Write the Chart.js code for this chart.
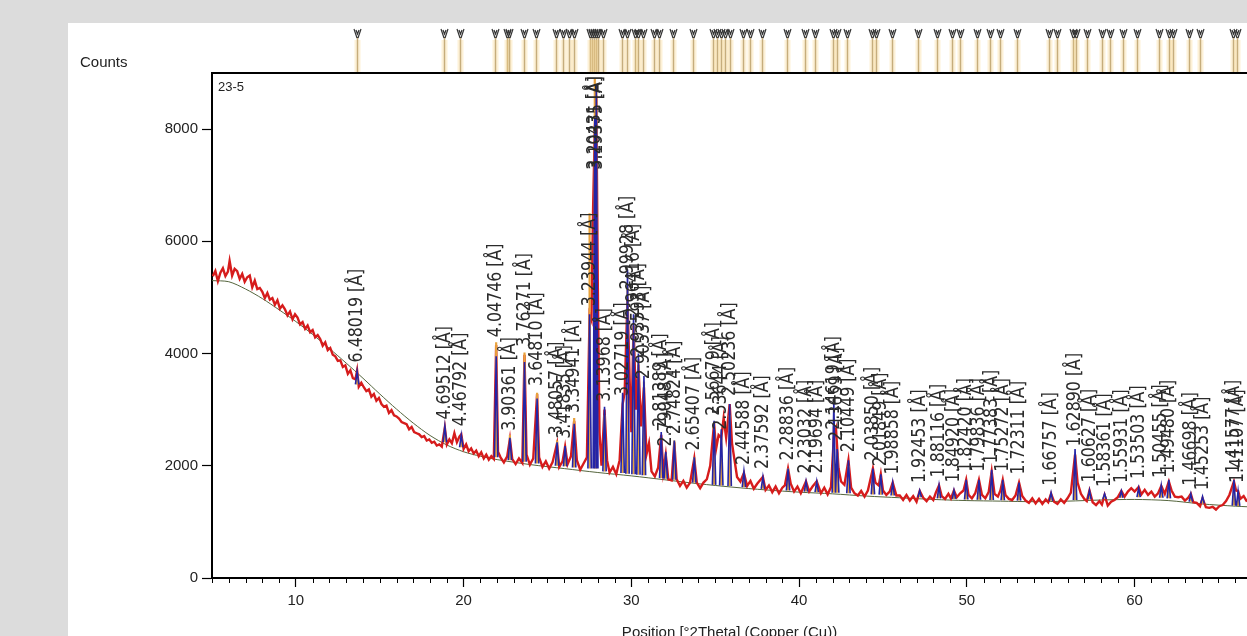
<!DOCTYPE html>
<html>
<head>
<meta charset="utf-8">
<script src="https://cdn.jsdelivr.net/npm/chart.js@4.4.1/dist/chart.umd.min.js"></script>
<style>
  html, body { margin: 0; padding: 0; background: #dcdcdc; }
  #wrap { position: relative; width: 1247px; height: 636px; overflow: hidden; }
</style>
</head>
<body>
<div id="wrap"><canvas id="xrdChart" width="1247" height="636"></canvas></div>
<script>
// measured scan, [2theta, counts]
const observed = [
  [5.05,5380],[5.2,5470],[5.35,5290],[5.5,5440],[5.65,5520],[5.8,5380],[5.95,5460],[6.05,5650],[6.2,5390],[6.35,5510],
  [6.5,5470],[6.65,5330],[6.8,5420],[6.95,5280],[7.1,5360],[7.25,5390],[7.4,5180],[7.55,5300],[7.7,5150],[7.85,5170],
  [8.0,5100],[8.15,4990],[8.3,5080],[8.45,4960],[8.6,4990],[8.75,4870],[8.9,4950],[9.05,4800],[9.2,4860],[9.35,4790],
  [9.5,4680],[9.65,4750],[9.8,4610],[9.95,4700],[10.1,4640],[10.25,4520],[10.4,4560],[10.55,4440],[10.7,4500],[10.85,4380],
  [11.0,4420],[11.15,4290],[11.3,4330],[11.45,4260],[11.6,4140],[11.75,4200],[11.9,4060],[12.05,4100],[12.2,3980],[12.35,3950],
  [12.5,3870],[12.65,3880],[12.8,3760],[12.95,3790],[13.1,3640],[13.25,3700],[13.4,3560],[13.55,3540],[13.65,3700],[13.75,3410],
  [13.9,3480],[14.05,3400],[14.2,3330],[14.35,3360],[14.5,3230],[14.65,3280],[14.8,3160],[14.95,3210],[15.1,3100],[15.25,3050],
  [15.4,3070],[15.55,2940],[15.7,2990],[15.85,2900],[16.0,2880],[16.15,2840],[16.3,2780],[16.45,2760],[16.6,2740],[16.75,2650],
  [16.9,2690],[17.05,2600],[17.2,2580],[17.35,2560],[17.5,2510],[17.65,2530],[17.8,2450],[17.95,2470],[18.1,2410],[18.25,2430],
  [18.4,2360],[18.55,2380],[18.7,2340],[18.88,2680],[19.0,2380],[19.15,2470],[19.3,2400],[19.45,2580],[19.6,2420],[19.75,2520],
  [19.86,2560],[20.0,2300],[20.15,2380],[20.3,2260],[20.45,2310],[20.6,2220],[20.75,2270],[20.9,2170],[21.05,2240],[21.2,2130],
  [21.35,2200],[21.5,2110],[21.65,2170],[21.8,2120],[21.94,4150],[22.05,2250],
  [22.2,2150],[22.4,2060],[22.6,2170],[22.76,2480],[22.9,2120],[23.1,2030],[23.3,2130],[23.5,2050],[23.63,3980],[23.75,2200],
  [23.95,2020],[24.15,2130],[24.38,3280],[24.5,2150],[24.7,1980],[24.9,2080],[25.1,1950],[25.3,2060],[25.57,2400],[25.7,1980],
  [25.9,2080],[26.05,2340],[26.2,2030],[26.4,2170],[26.59,2800],[26.75,2100],[26.95,1930],[27.15,2040],[27.35,2150],[27.51,4700],
  [27.62,4600],[27.72,6600],[27.82,8000],[27.91,8600],[28.0,5200],[28.1,2600],[28.22,2000],[28.4,3000],[28.55,2100],[28.7,1880],
  [28.9,1980],[29.1,1850],[29.3,2100],[29.48,3100],[29.6,3300],[29.77,5000],[29.9,3500],[30.0,2600],[30.13,4500],[30.28,3000],
  [30.42,3800],[30.58,2700],[30.75,3400],[30.9,2200],[31.05,2400],[31.2,1900],[31.4,1810],[31.6,1970],[31.78,2550],[31.9,1900],
  [32.05,2200],[32.2,1760],[32.4,1740],[32.56,2420],[32.7,1760],[32.9,1640],[33.1,1730],[33.3,1610],[33.5,1700],[33.75,2130],
  [33.9,1700],[34.1,1600],[34.3,1700],[34.5,1760],[34.7,2000],[34.93,2750],[35.05,2300],[35.2,2550],[35.36,2500],[35.5,2850],
  [35.65,2500],[35.86,3100],[36.0,2400],[36.15,2100],[36.3,1800],[36.5,1720],[36.71,1870],[36.9,1640],[37.1,1730],[37.3,1590],
  [37.5,1680],[37.84,1800],[38.0,1570],[38.2,1650],[38.4,1530],[38.6,1630],[38.8,1510],[39.0,1610],[39.15,1650],[39.34,1950],
  [39.5,1680],[39.7,1540],[39.9,1630],[40.1,1510],[40.41,1720],[40.6,1540],[40.8,1630],[41.05,1720],[41.3,1510],[41.5,1610],
  [41.7,1490],[41.9,1620],[42.07,2500],[42.2,2650],[42.35,1950],[42.5,1720],[42.7,1660],[42.94,2100],[43.1,1610],[43.3,1510],
  [43.5,1470],[43.7,1550],[43.9,1450],[44.1,1560],[44.4,1950],[44.55,1700],[44.75,1650],[44.87,1850],[45.0,1560],[45.2,1480],
  [45.4,1540],[45.58,1700],[45.8,1470],[46.0,1470],[46.2,1390],[46.4,1480],[46.6,1380],[46.8,1460],[47.0,1360],[47.19,1550],
  [47.4,1430],[47.6,1370],[47.8,1450],[48.0,1390],[48.15,1520],[48.34,1650],[48.5,1460],[48.7,1410],[48.9,1500],[49.05,1420],
  [49.23,1560],[49.4,1440],[49.6,1510],[49.8,1560],[49.96,1750],[50.1,1480],[50.3,1420],[50.5,1510],[50.72,1750],[50.9,1480],
  [51.1,1420],[51.3,1530],[51.48,1900],[51.65,1500],[51.85,1450],[52.0,1560],[52.14,1750],[52.3,1480],[52.5,1410],[52.7,1390],
  [52.9,1470],[53.11,1700],[53.3,1460],[53.5,1380],[53.7,1340],[53.9,1420],[54.1,1330],[54.3,1410],[54.5,1320],[54.7,1400],
  [54.85,1350],[55.02,1500],[55.2,1360],[55.4,1320],[55.6,1400],[55.8,1340],[56.0,1420],[56.2,1520],[56.45,2200],[56.6,1700],
  [56.8,1500],[57.0,1410],[57.15,1370],[57.31,1560],[57.5,1350],[57.7,1300],[57.9,1370],[58.05,1310],[58.21,1480],[58.4,1290],
  [58.6,1360],[58.8,1390],[59.0,1440],[59.21,1550],[59.4,1450],[59.6,1540],[59.8,1600],[60.0,1540],[60.24,1620],[60.4,1490],
  [60.6,1570],[60.8,1480],[61.0,1540],[61.2,1450],[61.4,1510],[61.59,1640],[61.8,1500],[62.04,1720],[62.2,1560],[62.4,1450],
  [62.6,1440],[62.8,1450],[63.0,1380],[63.2,1430],[63.35,1500],[63.5,1350],[63.7,1340],[63.9,1280],[64.05,1420],[64.25,1260],
  [64.45,1250],[64.65,1270],[64.85,1220],[65.05,1280],[65.25,1300],[65.45,1370],[65.65,1480],[65.92,1720],[66.05,1560],[66.17,1550],
  [66.3,1410],[66.5,1460],[66.7,1360]
];

// fitted background
const backgroundAngles = [5, 6, 7, 8, 9, 10, 11, 12, 13, 14, 15, 16, 17, 18, 19, 20, 21, 22, 24, 26, 28, 30, 32, 34, 36, 38, 40, 42, 44, 46, 48, 50, 52, 54, 56, 58, 60, 62, 64, 66, 66.7];
const backgroundCounts = [5300, 5280, 5150, 4980, 4780, 4570, 4340, 4090, 3830, 3560, 3280, 3010, 2760, 2540, 2370, 2250, 2170, 2110, 2020, 1950, 1880, 1820, 1750, 1680, 1620, 1570, 1530, 1500, 1460, 1430, 1400, 1380, 1370, 1360, 1370, 1390, 1400, 1380, 1320, 1280, 1270];

// identified peaks
const peakAngles = [13.65, 18.88, 19.86, 21.94, 22.76, 23.63, 24.38, 25.57, 26.05, 26.59, 27.51, 27.82, 27.91, 28.40, 29.48, 29.77, 30.13, 30.42, 30.75, 31.78, 32.05, 32.56, 33.75, 34.93, 35.36, 35.86, 36.71, 37.84, 39.34, 40.41, 41.05, 42.07, 42.27, 42.94, 44.40, 44.87, 45.58, 47.19, 48.34, 49.23, 49.96, 50.72, 51.48, 52.14, 53.11, 55.02, 56.45, 57.31, 58.21, 59.21, 60.24, 61.59, 62.04, 63.35, 64.05, 65.92, 66.17];
const peakSpacings = ['6.48019', '4.69512', '4.46792', '4.04746', '3.90361', '3.76271', '3.64810', '3.48057', '3.41835', '3.34941', '3.23944', '3.20431', '3.19375', '3.13968', '3.02719', '2.99928', '2.96416', '2.93593', '2.90537', '2.81389', '2.79048', '2.74824', '2.65407', '2.56679', '2.53644', '2.50236', '2.44588', '2.37592', '2.28836', '2.23032', '2.19694', '2.14619', '2.13659', '2.10449', '2.03850', '2.01849', '1.98858', '1.92453', '1.88116', '1.84920', '1.82420', '1.79836', '1.77383', '1.75272', '1.72311', '1.66757', '1.62890', '1.60627', '1.58361', '1.55931', '1.53503', '1.50455', '1.49480', '1.46698', '1.45253', '1.41577', '1.41107'];
const peakBase = [3450, 2420, 2330, 2150, 2100, 2070, 2040, 2000, 1990, 1970, 1950, 1950, 1950, 1900, 1870, 1860, 1850, 1840, 1830, 1780, 1770, 1750, 1700, 1660, 1650, 1640, 1620, 1590, 1560, 1540, 1530, 1520, 1520, 1510, 1490, 1485, 1470, 1440, 1420, 1410, 1400, 1395, 1390, 1385, 1380, 1375, 1390, 1400, 1410, 1430, 1440, 1430, 1420, 1360, 1330, 1290, 1285];
const peakCalc = [3680, 2700, 2550, 3950, 2500, 3850, 3200, 2420, 2350, 2750, 4700, 8200, 8800, 3050, 3300, 5500, 4700, 4000, 3600, 2600, 2250, 2450, 2150, 2800, 2650, 3100, 1900, 1800, 1950, 1720, 1720, 3120, 2300, 2100, 1950, 1850, 1700, 1560, 1650, 1560, 1750, 1750, 1930, 1750, 1700, 1520, 2300, 1560, 1500, 1550, 1600, 1650, 1750, 1500, 1450, 1750, 1550];
const peakStick = [3650, 2650, 2500, 4200, 2550, 4020, 3300, 2450, 2300, 2850, 6500, 8900, 8700, 2900, 2800, 5200, 4500, 3900, 3500, 2500, 2200, 2450, 2150, 2700, 2500, 2900, 1850, 1750, 1950, 1700, 1700, 2700, 2200, 2000, 1900, 1800, 1650, 1520, 1600, 1550, 1700, 1700, 1850, 1700, 1650, 1500, 2200, 1520, 1480, 1500, 1550, 1600, 1650, 1480, 1420, 1650, 1500];

// reference pattern line positions (strip above the plot)
const refLines = [13.64, 18.83, 19.78, 21.87, 22.58, 22.70, 23.59, 24.31, 25.50, 25.92, 26.28, 26.57, 27.53, 27.65, 27.76, 27.88, 28.0, 28.30, 29.43, 29.73, 30.21, 30.38, 30.69, 31.34, 31.64, 32.47, 33.67, 34.86, 35.09, 35.33, 35.57, 35.87, 36.64, 37.06, 37.78, 39.27, 40.34, 40.94, 42.01, 42.25, 42.84, 44.33, 44.57, 45.52, 47.07, 48.21, 49.10, 49.58, 50.59, 51.37, 51.96, 52.97, 54.88, 55.36, 56.31, 56.49, 57.15, 58.04, 58.52, 59.29, 60.12, 61.44, 62.03, 62.27, 63.22, 63.88, 65.85, 66.09];

const xTicks = [10, 20, 30, 40, 50, 60];
const yTicks = [0, 2000, 4000, 6000, 8000];

const PEAK_HALF = 0.1;
const LABEL_FONT = "20px 'Liberation Sans Narrow', 'DejaVu Sans Condensed', 'Arial Narrow', sans-serif";
const LABEL_SQUEEZE = 0.88;

Chart.defaults.font.family = "'Liberation Sans', Arial, sans-serif";
Chart.defaults.font.size = 14;
Chart.defaults.color = '#222';

const obsPoints = observed.map(([x, y]) => ({ x, y }));
const bgPoints = backgroundAngles.map((x, i) => ({ x, y: backgroundCounts[i] }));
const calcPoints = [];
const stickPoints = [];
peakAngles.forEach((a, i) => {
    calcPoints.push({ x: a - PEAK_HALF, y: peakBase[i] }, { x: a, y: peakCalc[i] }, { x: a + PEAK_HALF, y: peakBase[i] }, { x: a + PEAK_HALF, y: null });
    stickPoints.push({ x: a, y: peakBase[i] }, { x: a, y: peakStick[i] }, { x: a, y: null });
});

const xrdDecor = {
    id: 'xrdDecor',
    beforeDraw(chart) {
        const ctx = chart.ctx;
        ctx.save();
        ctx.fillStyle = '#dcdcdc';
        ctx.fillRect(0, 0, chart.width, chart.height);
        ctx.fillStyle = '#ffffff';
        ctx.fillRect(68, 23, chart.width - 68, chart.height - 23);
        ctx.restore();
    },
    afterDatasetsDraw(chart) {
        const ctx = chart.ctx;
        const area = chart.chartArea;
        const xs = chart.scales.x, ys = chart.scales.y;
        ctx.save();
        ctx.beginPath();
        ctx.rect(area.left, area.top, area.right - area.left + 20, area.bottom - area.top);
        ctx.clip();
        ctx.font = LABEL_FONT;
        ctx.fillStyle = '#2b2b2b';
        ctx.textAlign = 'left';
        ctx.textBaseline = 'middle';
        peakAngles.forEach((a, i) => {
            let top = 0;
            observed.forEach(([x, y]) => { if (Math.abs(x - a) <= 0.06 && y > top) top = y; });
            if (!top) top = peakCalc[i];
            const text = peakSpacings[i] + ' [Å]';
            const w = ctx.measureText(text).width * LABEL_SQUEEZE;
            const px = xs.getPixelForValue(a);
            let bottom = ys.getPixelForValue(top) - 8;
            if (bottom - w < area.top + 3) bottom = area.top + 3 + w;
            ctx.save();
            ctx.translate(px, bottom);
            ctx.rotate(-Math.PI / 2);
            ctx.scale(LABEL_SQUEEZE, 1);
            ctx.fillText(text, 0, 0);
            ctx.restore();
        });
        ctx.restore();
    },
    afterDraw(chart) {
        const ctx = chart.ctx;
        const area = chart.chartArea;
        const xs = chart.scales.x;
        ctx.save();

        // top frame line
        ctx.strokeStyle = '#000';
        ctx.lineWidth = 2;
        ctx.beginPath();
        ctx.moveTo(area.left - 1, area.top);
        ctx.lineTo(area.right, area.top);
        ctx.stroke();

        // reference pattern strip
        refLines.forEach(a => {
            const px = Math.round(xs.getPixelForValue(a)) + 0.5;
            ctx.strokeStyle = 'rgba(250, 215, 140, 0.35)';
            ctx.lineWidth = 6;
            ctx.beginPath(); ctx.moveTo(px, 40); ctx.lineTo(px, area.top - 1); ctx.stroke();
            ctx.strokeStyle = '#c6ad7c';
            ctx.lineWidth = 1.5;
            ctx.beginPath(); ctx.moveTo(px, 37); ctx.lineTo(px, area.top - 1); ctx.stroke();
            ctx.strokeStyle = '#333';
            ctx.lineWidth = 1.2;
            ctx.beginPath();
            ctx.moveTo(px - 3.5, 29); ctx.lineTo(px - 0.5, 38);
            ctx.moveTo(px + 3.5, 29); ctx.lineTo(px + 0.5, 38);
            ctx.moveTo(px - 1.5, 30); ctx.lineTo(px, 34); ctx.lineTo(px + 1.5, 30);
            ctx.stroke();
        });

        // minor ticks on x
        ctx.strokeStyle = '#000';
        ctx.lineWidth = 1;
        for (let v = Math.ceil(xs.min); v <= xs.max; v++) {
            if (xTicks.includes(v)) continue;
            const px = Math.round(xs.getPixelForValue(v)) + 0.5;
            ctx.beginPath(); ctx.moveTo(px, area.bottom); ctx.lineTo(px, area.bottom + 5); ctx.stroke();
        }

        // texts
        ctx.fillStyle = '#222';
        ctx.font = "15px 'Liberation Sans', Arial, sans-serif";
        ctx.textAlign = 'left';
        ctx.textBaseline = 'alphabetic';
        ctx.fillText('Counts', 80, 67);
        ctx.font = "13px 'Liberation Sans', Arial, sans-serif";
        ctx.fillText('23-5', 218, 91);
        ctx.font = "15px 'Liberation Sans', Arial, sans-serif";
        ctx.textAlign = 'center';
        ctx.textBaseline = 'top';
        ctx.fillText('Position [°2Theta] (Copper (Cu))', (area.left + area.right) / 2, 625);
        ctx.restore();
    }
};

new Chart(document.getElementById('xrdChart'), {
    type: 'line',
    data: {
        datasets: [
            { label: 'Calculated', data: calcPoints, borderColor: '#2424a6', borderWidth: 1.6, pointRadius: 0, spanGaps: false, tension: 0 },
            { label: 'Peak list', data: stickPoints, borderColor: '#e8a23c', borderWidth: 2.2, pointRadius: 0, spanGaps: false },
            { label: 'Observed', data: obsPoints, borderColor: '#d61c1c', borderWidth: 2.4, pointRadius: 0, tension: 0 },
            { label: 'Background', data: bgPoints, borderColor: '#55653d', borderWidth: 1, pointRadius: 0, tension: 0.3 }
        ]
    },
    options: {
        responsive: false,
        devicePixelRatio: 1,
        animation: false,
        events: [],
        layout: { padding: { top: 73, left: 0, right: 0, bottom: 0 } },
        scales: {
            x: {
                type: 'linear', min: 5, max: 66.7,
                afterFit(s) { s.height = 58; },
                afterBuildTicks(s) { s.ticks = xTicks.map(v => ({ value: v })); },
                grid: { drawOnChartArea: false, tickLength: 9, tickColor: '#000', tickWidth: 1.2 },
                border: { color: '#000', width: 2 },
                ticks: { color: '#222', padding: 5, maxRotation: 0, autoSkip: false, font: { size: 15 }, callback: v => String(v) }
            },
            y: {
                type: 'linear', min: 0, max: 9000,
                afterFit(s) { s.width = 212; },
                afterBuildTicks(s) { s.ticks = yTicks.map(v => ({ value: v })); },
                grid: { drawOnChartArea: false, tickLength: 10, tickColor: '#000', tickWidth: 1.2 },
                border: { color: '#000', width: 2 },
                ticks: { color: '#222', padding: 4, font: { size: 15 }, callback: v => String(v) }
            }
        },
        plugins: { legend: { display: false }, tooltip: { enabled: false } }
    },
    plugins: [xrdDecor]
});
</script>
</body>
</html>
